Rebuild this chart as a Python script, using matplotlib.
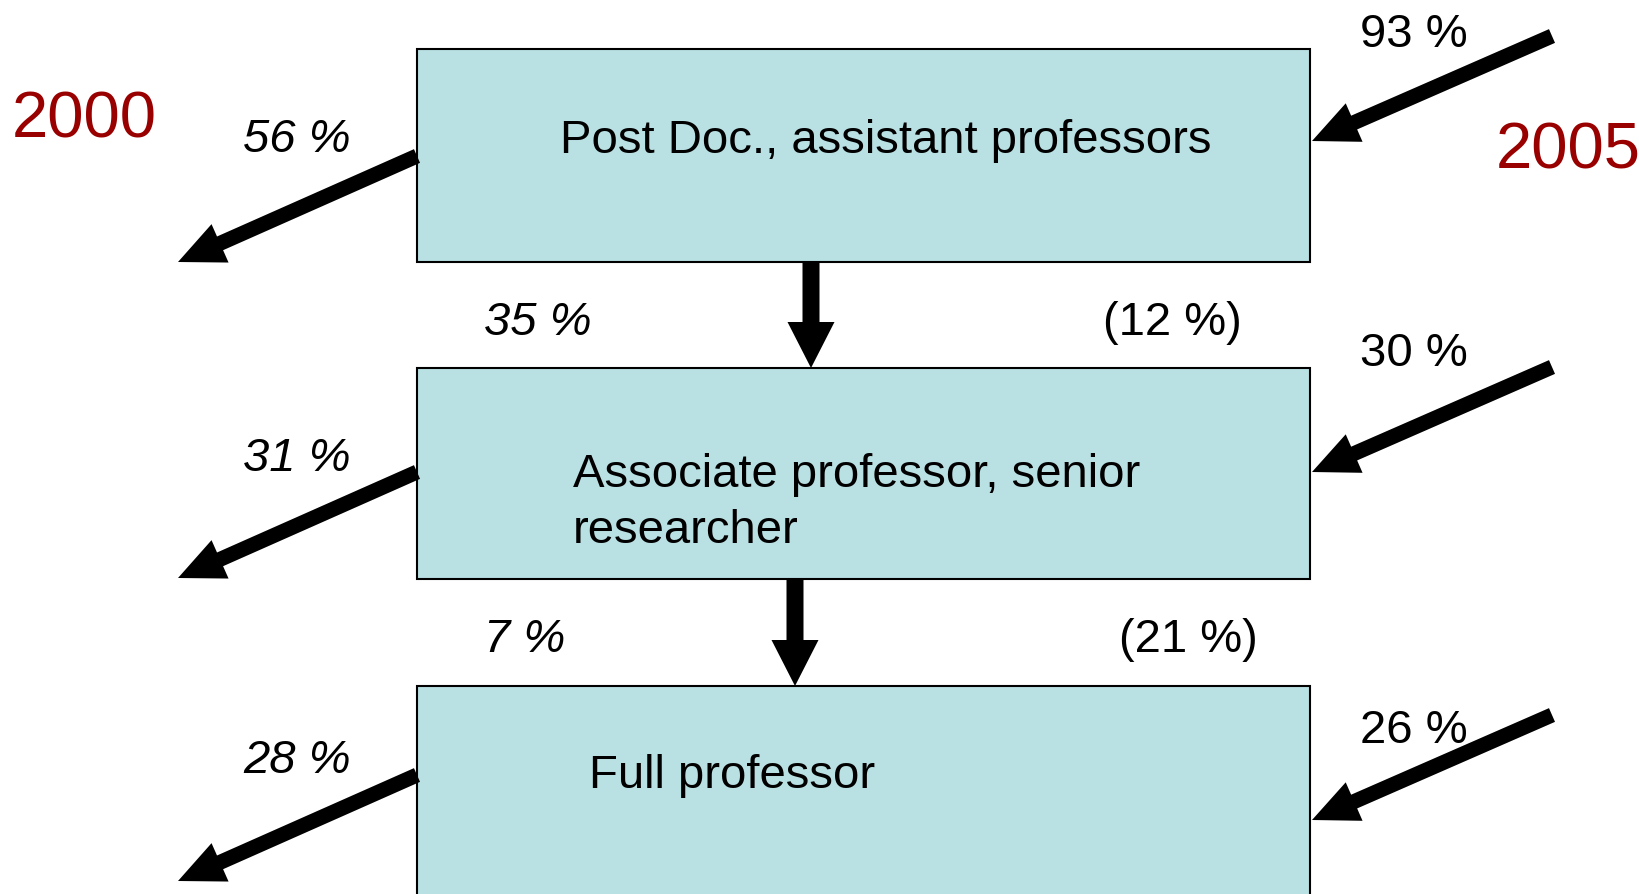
import matplotlib.pyplot as plt
from matplotlib.patches import Rectangle, FancyArrow

plt.rcParams['font.family'] = ['Liberation Sans', 'DejaVu Sans']

# career stages (boxes) and flows between them
stages = ["Post Doc., assistant professors",
          "Associate professor, senior\nresearcher",
          "Full professor"]
leaving_2000 = ["56 %", "31 %", "28 %"]      # left arrows, italic
entering_2005 = ["93 %", "30 %", "26 %"]     # right arrows
promoted = ["35 %", "7 %"]                   # down arrows, italic
promoted_alt = ["(12 %)", "(21 %)"]
years = ["2000", "2005"]

box_color = "#b9e0e3"
year_color = "#990000"

fig = plt.figure(figsize=(16.4, 8.95), dpi=100)
ax = fig.add_axes([0, 0, 1, 1])
ax.set_xlim(0, 1640)
ax.set_ylim(895, 0)
ax.axis("off")

box_x0, box_x1 = 417, 1310
box_tops = [50, 369, 687]
box_bots = [263, 580, 960]
for top, bot in zip(box_tops, box_bots):
    ax.add_patch(Rectangle((box_x0, top), box_x1 - box_x0, bot - top,
                           facecolor=box_color, edgecolor="black", lw=1.5))

fs = 34
dy = 4  # small nudge so text centres sit like the original

# box labels
ax.text(560, 137 + dy, stages[0], fontsize=fs, va="center", ha="left")
ax.text(573, 499 + dy, stages[1], fontsize=fs, va="center", ha="left", linespacing=1.35)
ax.text(589, 772 + dy, stages[2], fontsize=fs, va="center", ha="left")


def arrow(x0, y0, x1, y1, w=15, hw=42, hl=46):
    ax.add_patch(FancyArrow(x0, y0, x1 - x0, y1 - y0, width=w, head_width=hw,
                            head_length=hl, length_includes_head=True,
                            color="black", lw=0))


# leaving arrows (left)
left_starts = [157, 473, 776]
for ys, lab, ly in zip(left_starts, leaving_2000, [136, 455, 757]):
    arrow(417, ys, 178, ys + 106)
    ax.text(243, ly + dy, lab, fontsize=fs, style="italic", va="center", ha="left")

# entering arrows (right)
right_starts = [37, 368, 716]
for ys, lab, ly in zip(right_starts, entering_2005, [31, 350, 727]):
    arrow(1552, ys, 1312, ys + 105)
    ax.text(1360, ly + dy, lab, fontsize=fs, va="center", ha="left")

# promotion arrows (down)
down_x = [811, 795]
for i, x in enumerate(down_x):
    arrow(x, box_bots[i], x, box_tops[i + 1], w=17, hw=47, hl=46)
ax.text(484, 319 + dy, promoted[0], fontsize=fs, style="italic", va="center", ha="left")
ax.text(484, 636 + dy, promoted[1], fontsize=fs, style="italic", va="center", ha="left")
ax.text(1103, 319 + dy, promoted_alt[0], fontsize=fs, va="center", ha="left")
ax.text(1119, 636 + dy, promoted_alt[1], fontsize=fs, va="center", ha="left")

# years
ax.text(12, 116 + dy, years[0], fontsize=47, color=year_color, va="center", ha="left")
ax.text(1496, 147 + dy, years[1], fontsize=47, color=year_color, va="center", ha="left")

fig.savefig("out.png", dpi=100)
